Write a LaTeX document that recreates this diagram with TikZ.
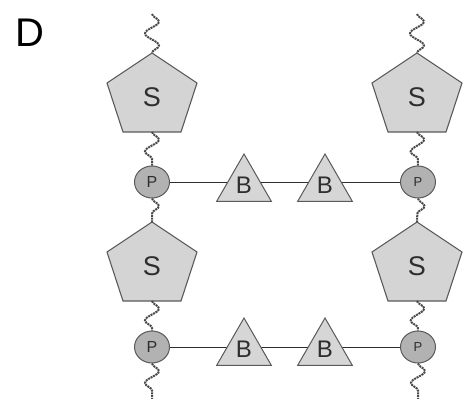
\documentclass[tikz,border=0pt]{standalone}
\usepackage{fontspec}
\setmainfont{Liberation Sans}
\usetikzlibrary{shapes.geometric,decorations.pathmorphing,backgrounds}

\definecolor{sugarfill}{HTML}{D4D4D4}
\definecolor{basefill}{HTML}{D6D6D6}
\definecolor{phosfill}{HTML}{B2B2B2}
\definecolor{edge}{HTML}{5A5A5A}
\definecolor{ink}{HTML}{2E2E2E}
\definecolor{chain}{HTML}{4A4A4A}

\tikzset{
  sugar/.pic={
    \path[draw=edge, fill=sugarfill, line width=1.1pt]
      (0,0) -- (45,30) -- (29,79) -- (-29,79) -- (-45,30) -- cycle;
    \coordinate (-top) at (0,0);
    \coordinate (-bot) at (0,79);
    \node[font=\fontsize{27}{27}\selectfont, text=ink, inner sep=0pt] (-lbl) at (0,44) {S};
  },
  phos/.style={ellipse, draw=edge, fill=phosfill, line width=1pt,
    minimum width=35pt, minimum height=32pt, inner sep=0pt, text=ink},
  basetri/.style={regular polygon, regular polygon sides=3, draw=edge,
    fill=basefill, line width=1pt, minimum size=63pt, inner sep=0pt,
    text=ink, font=\fontsize{24}{24}\selectfont},
  bond/.style={draw=ink, line width=1pt},
  wiggle/.style={draw=chain, line width=2pt, dash pattern=on 2pt off 0.8pt,
    decorate, decoration={snake, segment length=24pt, amplitude=7pt}}
}

\begin{document}
\begin{tikzpicture}[x=1pt, y=-1pt]
\useasboundingbox (0,0) rectangle (464,399);

\node[font=\fontsize{40}{40}\selectfont, inner sep=0pt] (label) at (29.5,33) {D};

% sugars
\pic (sl1) at (152,53) {sugar};
\pic (sr1) at (417,53) {sugar};
\pic (sl2) at (152,222) {sugar};
\pic (sr2) at (417,222) {sugar};

% phosphates
\node[phos, font=\fontsize{16}{16}\selectfont] (pl1) at (152,182) {P};
\node[phos, font=\fontsize{13}{13}\selectfont] (pr1) at (418,182) {P};
\node[phos, font=\fontsize{16}{16}\selectfont] (pl2) at (152,347) {P};
\node[phos, font=\fontsize{13}{13}\selectfont] (pr2) at (418,347) {P};

% bases
\node[basetri] (t11) at (244,185.5) {B};
\node[basetri] (t12) at (325,185.5) {B};
\node[basetri] (t21) at (244,349.5) {B};
\node[basetri] (t22) at (325,349.5) {B};

% free ends of the backbone
\coordinate (lt) at (152,14);
\coordinate (rt) at (417,14);
\coordinate (lb) at (152,399);
\coordinate (rb) at (418,399);

\begin{scope}[on background layer]
  \draw[bond] (pl1) -- (pr1);
  \draw[bond] (pl2) -- (pr2);
\end{scope}

% backbone linkages
\foreach \s in {l,r}{
  \draw[wiggle] (\s t) -- (s\s1-top);
  \draw[wiggle] (s\s1-bot) -- (p\s1.north);
  \draw[wiggle] (p\s1.south) -- (s\s2-top);
  \draw[wiggle] (s\s2-bot) -- (p\s2.north);
  \draw[wiggle] (p\s2.south) -- (\s b);
}
\end{tikzpicture}
\end{document}
